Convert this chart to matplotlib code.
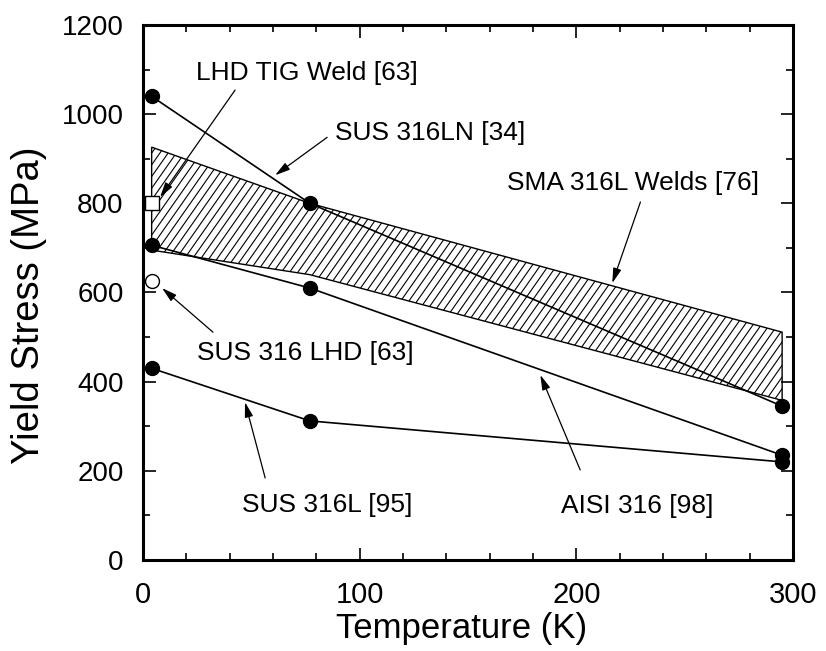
import numpy as np
import matplotlib
matplotlib.use("Agg")
import matplotlib.pyplot as plt
from matplotlib.patches import Polygon
from matplotlib.collections import LineCollection
from matplotlib.ticker import MultipleLocator

plt.rcParams['font.family'] = ['Liberation Sans', 'DejaVu Sans']

# Yield stress data (temperature in K, stress in MPa)
sus316ln_T = [4, 77, 295]
sus316ln_s = [1040, 800, 345]

aisi316_T = [4, 77, 295]
aisi316_s = [706, 610, 235]

sus316l_T = [4, 77, 295]
sus316l_s = [430, 312, 220]

sus316_lhd_T = [4]
sus316_lhd_s = [626]

lhd_tig_T = [4]
lhd_tig_s = [800]

# Scatter band of SMA 316L welds: upper and lower bounds
sma_upper_T = [4, 77, 295]
sma_upper_s = [926, 800, 511]
sma_lower_T = [4, 77, 295]
sma_lower_s = [695, 640, 358]

fig = plt.figure(figsize=(8.26, 6.51), dpi=100)
ax = fig.add_axes([0.1731, 0.1398, 0.7869, 0.8218])

band = list(zip(sma_upper_T, sma_upper_s)) + list(zip(sma_lower_T[::-1], sma_lower_s[::-1]))
band_patch = Polygon(band, closed=True, facecolor='white', edgecolor='black',
                     linewidth=1.0, zorder=1)
ax.add_patch(band_patch)

# Steep diagonal hatching, clipped to the band
ax_w, ax_h = 650.0, 535.0            # axes size in pixels
run = ax_h / np.tan(np.radians(55))  # horizontal run of one hatch line
starts = np.arange(-run, ax_w, 8.2)
segs = [[(x0 / ax_w, 0.0), ((x0 + run) / ax_w, 1.0)] for x0 in starts]
hatch = LineCollection(segs, transform=ax.transAxes, colors='black',
                       linewidths=0.8, zorder=1.5)
hatch.set_clip_path(band_patch)
ax.add_collection(hatch)

line_kw = dict(color='black', linewidth=1.2, marker='o', markersize=10,
               markerfacecolor='black', markeredgecolor='black', zorder=3)
ax.plot(sus316ln_T, sus316ln_s, **line_kw)
ax.plot(aisi316_T, aisi316_s, **line_kw)
ax.plot(sus316l_T, sus316l_s, **line_kw)
ax.plot(sus316_lhd_T, sus316_lhd_s, linestyle='none', marker='o', markersize=10,
        markerfacecolor='white', markeredgecolor='black', markeredgewidth=1.0, zorder=4)
ax.plot(lhd_tig_T, lhd_tig_s, linestyle='none', marker='s', markersize=10,
        markerfacecolor='white', markeredgecolor='black', markeredgewidth=1.0, zorder=4)

arrow = dict(arrowstyle='-|>,head_length=0.9,head_width=0.25', color='black',
             linewidth=0.9, shrinkA=0, shrinkB=0)
ann_fs = 19
# label, text position (center x, baseline y), arrow tail, arrow tip
notes = [
    ("LHD TIG Weld [63]", (75.5, 1076), (42.5, 1054), (7.9, 814)),
    ("SUS 316LN [34]", (132.6, 942), (85, 948), (61, 863)),
    ("SMA 316L Welds [76]", (226.1, 830), (229.6, 803), (216.6, 621)),
    ("SUS 316 LHD [63]", (75.1, 448), (32.3, 511), (8.8, 610)),
    ("SUS 316L [95]", (85, 108), (56.4, 184), (47.1, 354)),
    ("AISI 316 [98]", (228, 105), (201.8, 202), (183.4, 415)),
]
for label, txt_xy, start, tip in notes:
    ax.text(txt_xy[0], txt_xy[1], label, fontsize=ann_fs, ha='center', va='baseline', zorder=5)
    ax.annotate('', xy=tip, xytext=start, arrowprops=arrow, zorder=5)

ax.set_xlim(0, 300)
ax.set_ylim(0, 1200)
ax.xaxis.set_major_locator(MultipleLocator(100))
ax.xaxis.set_minor_locator(MultipleLocator(20))
ax.yaxis.set_major_locator(MultipleLocator(200))
ax.yaxis.set_minor_locator(MultipleLocator(100))
ax.tick_params(which='both', direction='in', top=True, right=True, width=1.2)
ax.tick_params(which='major', length=9)
ax.tick_params(which='minor', length=5)
ax.tick_params(axis='x', labelsize=21, pad=15)
ax.tick_params(axis='y', labelsize=20, pad=14)
for sp in ax.spines.values():
    sp.set_linewidth(2.2)

ax.set_xlabel('Temperature (K)', fontsize=25)
ax.set_ylabel('Yield Stress (MPa)', fontsize=27.5)
ax.xaxis.set_label_coords(0.49, -0.098)
ax.yaxis.set_label_coords(-0.148, 0.477)

fig.savefig('out.png', dpi=100)
